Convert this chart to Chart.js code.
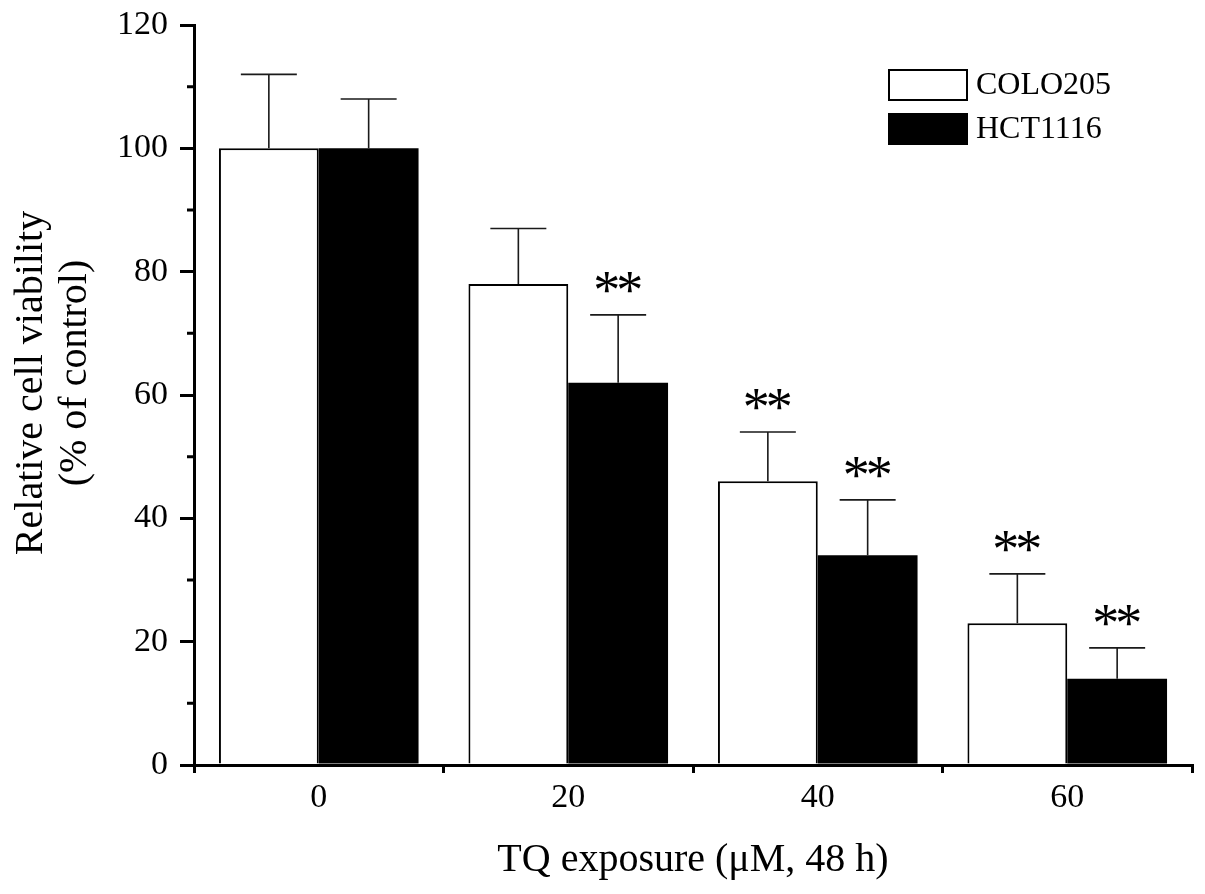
<!DOCTYPE html>
<html>
<head>
<meta charset="utf-8">
<script src="https://cdn.jsdelivr.net/npm/chart.js@4.4.1/dist/chart.umd.min.js"></script>
<style>
  html, body { margin: 0; padding: 0; background: #fff; }
  #wrap { width: 1205px; height: 894px; }
</style>
</head>
<body>
<div id="wrap"><canvas id="c" width="1205" height="894"></canvas></div>
<script>
// ---- data ----
const categories = ['0', '20', '40', '60'];
const seriesNames = ['COLO205', 'HCT1116'];
const coloValues = [100, 78, 46, 23];
const coloErrors = [12, 9, 8, 8];
const coloSig = ['', '', '**', '**'];
const hctValues = [100, 62, 34, 14];
const hctErrors = [8, 11, 9, 5];
const hctSig = ['', '**', '**', '**'];
const yTicks = [0, 20, 40, 60, 80, 100, 120];
const yMinorTicks = [10, 30, 50, 70, 90, 110];
const xTitle = 'TQ exposure (\u03bcM, 48 h)';
const yTitleLines = ['Relative cell viability', '(% of control)'];

const FONT = '"Liberation Serif", "Times New Roman", serif';

const overlay = {
  id: 'overlay',
  afterDatasetsDraw(chart) {
    const ctx = chart.ctx;
    const ys = chart.scales.y;
    chart.data.datasets.forEach((ds, di) => {
      const meta = chart.getDatasetMeta(di);
      meta.data.forEach((bar, i) => {
        const topPx = ys.getPixelForValue(ds.data[i] + ds.errors[i]);
        const basePx = ys.getPixelForValue(ds.data[i]);
        ctx.save();
        ctx.strokeStyle = '#1a1a1a';
        ctx.lineWidth = 1.6;
        ctx.beginPath();
        ctx.moveTo(bar.x, basePx);
        ctx.lineTo(bar.x, topPx);
        ctx.moveTo(bar.x - 28, topPx);
        ctx.lineTo(bar.x + 28, topPx);
        ctx.stroke();
        const s = ds.sig[i];
        if (s) {
          ctx.fillStyle = '#000';
          ctx.font = '54px ' + FONT;
          ctx.textAlign = 'center';
          ctx.textBaseline = 'alphabetic';
          const n = s.length, gap = 23;
          for (let k = 0; k < n; k++) {
            ctx.fillText(s[k], bar.x + (k - (n - 1) / 2) * gap, topPx - 7);
          }
        }
        ctx.restore();
      });
    });
  },
  afterDraw(chart) {
    const ctx = chart.ctx;
    const ys = chart.scales.y;
    const area = chart.chartArea;
    ctx.save();
    // minor ticks
    ctx.strokeStyle = '#000';
    ctx.lineWidth = 3;
    ctx.beginPath();
    yMinorTicks.forEach(v => {
      const p = ys.getPixelForValue(v);
      ctx.moveTo(area.left - 7, p);
      ctx.lineTo(area.left, p);
    });
    ctx.stroke();
    // y title
    ctx.fillStyle = '#000';
    ctx.font = '40px ' + FONT;
    ctx.textAlign = 'center';
    ctx.textBaseline = 'alphabetic';
    const xs = [42, 86];
    const cy = [383, 373];
    yTitleLines.forEach((t, i) => {
      ctx.save();
      ctx.translate(xs[i], cy[i]);
      ctx.rotate(-Math.PI / 2);
      ctx.fillText(t, 0, 0);
      ctx.restore();
    });
    // legend
    const lx = 888, lw = 80, lh = 32;
    const lys = [69, 113];
    ctx.font = '32px ' + FONT;
    ctx.textAlign = 'left';
    ctx.textBaseline = 'middle';
    chart.data.datasets.forEach((ds, i) => {
      ctx.fillStyle = ds.backgroundColor;
      ctx.fillRect(lx, lys[i], lw, lh);
      ctx.strokeStyle = '#000';
      ctx.lineWidth = 2;
      ctx.strokeRect(lx + 1, lys[i] + 1, lw - 2, lh - 2);
      ctx.fillStyle = '#000';
      ctx.fillText(ds.label, lx + lw + 8, lys[i] + lh / 2 + 1);
    });
    ctx.restore();
  }
};

new Chart(document.getElementById('c'), {
  type: 'bar',
  data: {
    labels: categories,
    datasets: [
      { label: seriesNames[0], data: coloValues, errors: coloErrors, sig: coloSig,
        backgroundColor: '#ffffff', borderColor: '#000000', borderWidth: 2,
        categoryPercentage: 0.8, barPercentage: 1.0 },
      { label: seriesNames[1], data: hctValues, errors: hctErrors, sig: hctSig,
        backgroundColor: '#000000', borderColor: '#000000', borderWidth: 0,
        categoryPercentage: 0.8, barPercentage: 1.0 }
    ]
  },
  options: {
    responsive: false,
    animation: false,
    devicePixelRatio: 1,
    layout: { padding: { left: 0, right: 13, top: 25, bottom: 0 } },
    plugins: { legend: { display: false }, tooltip: { enabled: false } },
    scales: {
      x: {
        offset: true,
        grid: { display: true, drawOnChartArea: false, offset: true, tickLength: 8, color: '#000', lineWidth: 3 },
        border: { display: true, color: '#000', width: 3 },
        ticks: { color: '#000', font: { family: FONT, size: 34 }, padding: 5 },
        title: { display: true, text: xTitle, color: '#000', font: { family: FONT, size: 40 }, padding: { top: 0, bottom: 10 } },
        afterFit(s) { s.height = 129; s.paddingLeft = 0; s.paddingRight = 0; }
      },
      y: {
        min: 0, max: 120,
        afterBuildTicks(s) { s.ticks = yTicks.map(v => ({ value: v })); },
        grid: { display: true, drawOnChartArea: false, tickLength: 14, color: '#000', lineWidth: 3 },
        border: { display: true, color: '#000', width: 3 },
        ticks: { color: '#000', font: { family: FONT, size: 34 }, padding: 12 },
        afterFit(s) { s.width = 194; s.paddingTop = 0; s.paddingBottom = 0; }
      }
    }
  },
  plugins: [overlay]
});
</script>
</body>
</html>
